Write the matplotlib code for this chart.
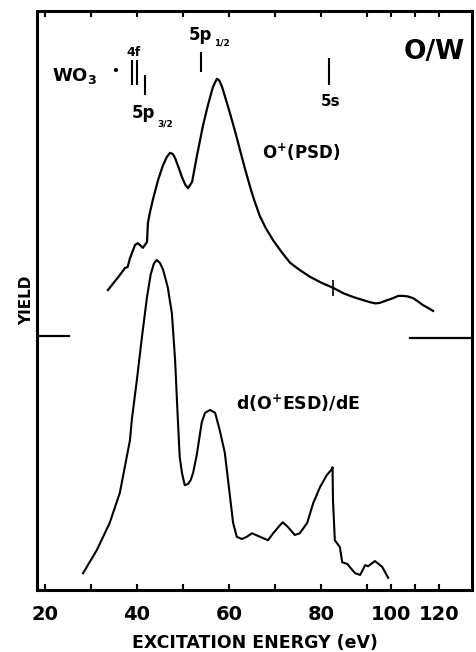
import numpy as np
import matplotlib
matplotlib.use("Agg")
import matplotlib.pyplot as plt

plt.rcParams['font.family'] = ['DejaVu Sans']
plt.rcParams['font.weight'] = 'bold'
plt.rcParams['mathtext.fontset'] = 'dejavusans'

# O+ (PSD) yield, upper curve
psd_E = [33.7, 36.3, 37.4, 38.0, 38.5, 39.6, 40.2, 41.3, 42.2, 42.4, 42.8, 43.5,
         44.6, 45.6, 46.5, 47.2, 47.8, 48.3, 49.0, 49.8, 50.5, 51.1, 52.0, 53.0,
         54.3, 55.2, 55.9, 56.5, 57.0, 57.4, 57.9, 58.5, 59.3, 60.2, 61.3, 62.4,
         63.5, 64.6, 65.5, 66.7, 68.0, 69.6, 71.5, 73.3, 75.5, 77.6, 80.0, 82.6,
         85.0, 87.0, 89.0, 91.3, 93.5, 95.4, 98.0, 100.8, 103.0, 105.0, 107.0,
         109.2, 111.0, 113.3, 115.5, 117.5]
psd_Y = [51.8, 54.4, 55.6, 55.8, 57.3, 59.6, 59.9, 59.1, 60.1, 63.4, 65.1, 67.5,
         70.8, 73.2, 74.8, 75.5, 75.3, 74.6, 73.1, 71.3, 70.0, 69.4, 70.5, 74.8,
         80.0, 83.0, 85.1, 86.8, 87.7, 88.3, 88.0, 86.9, 84.8, 82.4, 79.3, 76.0,
         72.7, 69.6, 67.3, 64.6, 62.5, 60.4, 58.3, 56.5, 55.2, 54.1, 53.1, 52.2,
         51.2, 50.6, 50.1, 49.7, 49.5, 49.6, 50.0, 50.4, 50.8, 50.8, 50.7,
         50.4, 49.9, 49.2, 48.7, 48.2]

# d(O+ ESD)/dE, lower curve
esd_E = [28.3, 31.3, 34.1, 36.3, 38.5, 38.9, 40.0, 41.1, 42.2, 43.0, 43.7, 44.3,
         45.0, 45.7, 46.7, 47.6, 48.3, 48.9, 49.3, 49.8, 50.4, 51.1, 51.7, 52.2,
         53.0, 54.1, 54.8, 55.9, 57.0, 58.0, 59.1, 59.8, 60.9, 61.7, 62.8, 63.9,
         65.0, 66.7, 68.5, 69.6, 71.1, 71.7, 72.8, 74.3, 75.4, 77.0, 78.3, 79.8,
         81.3, 82.4, 82.5, 82.6, 83.0, 84.1, 84.6, 85.7, 87.4, 88.5, 89.6, 90.4,
         93.3, 96.3, 98.8]
esd_Y = [2.9, 6.9, 11.6, 16.8, 25.9, 29.4, 36.3, 43.7, 50.6, 54.5, 56.4, 57.0,
         56.5, 55.3, 52.3, 47.8, 39.7, 29.4, 23.0, 20.2, 18.1, 18.3, 19.0, 20.2,
         23.3, 29.0, 30.6, 31.1, 30.6, 27.6, 23.7, 19.0, 11.6, 9.2, 8.8, 9.2,
         9.8, 9.2, 8.6, 9.8, 11.2, 11.7, 10.9, 9.5, 9.8, 11.6, 15.0, 17.8,
         19.9, 20.9, 21.2, 15.5, 8.6, 7.4, 4.8, 4.5, 2.9, 2.6, 4.3, 4.1,
         5.0, 4.0, 2.1]

# WO3 level markers: energy, y-bottom, y-top
level_E = [38.9, 40.0, 41.7, 53.9, 81.7]
level_lo = [87.2, 87.2, 85.5, 89.5, 87.2]
level_hi = [91.5, 91.5, 88.9, 92.9, 91.9]

xticks = [20, 30, 40, 50, 60, 70, 80, 90, 100, 110, 120]
xticklabels = ['20', '', '40', '', '60', '', '80', '', '100', '', '120']

# energy axis is compressed above 90 eV
def fwd(e):
    e = np.asarray(e, dtype=float)
    return np.where(e <= 90, e, 90 + (e - 90) * (2.4 / 4.6))

def inv(x):
    x = np.asarray(x, dtype=float)
    return np.where(x <= 90, x, 90 + (x - 90) * (4.6 / 2.4))

fig = plt.figure(figsize=(4.77, 6.52), dpi=100)
ax = fig.add_axes([37 / 477, 62 / 652, 435 / 477, 579 / 652])
ax.set_xscale('function', functions=(fwd, inv))

ax.plot(psd_E, psd_Y, color='black', lw=1.6, solid_joinstyle='round')
ax.plot(esd_E, esd_Y, color='black', lw=1.5, solid_joinstyle='round')
ax.vlines(level_E, level_lo, level_hi, color='black', lw=1.5)
# small mark on the PSD curve at 5s
ax.vlines([82.6], [50.8], [53.6], color='black', lw=1.2)

# panel separators
ax.plot([18.3, 25.2], [43.9, 43.9], color='black', lw=1.6)
ax.plot([107.9, 133.7], [43.5, 43.5], color='black', lw=1.6)

ax.set_xlim(18.3, 133.7)
ax.set_ylim(0, 100)
ax.set_xticks(xticks)
ax.set_xticklabels(xticklabels)
ax.set_yticks([])
ax.tick_params(axis='x', direction='in', top=True, length=4, width=1.5,
               labelsize=14, pad=11)
ax.minorticks_off()
for s in ax.spines.values():
    s.set_linewidth(2.2)

ax.set_xlabel('EXCITATION ENERGY (eV)', fontsize=12.5, fontweight='bold', labelpad=7)
ax.set_ylabel('YIELD', fontsize=11, fontweight='bold', labelpad=2)

def ft(px, py, s, **kw):
    fig.text(px / 477, 1 - py / 652, s, fontweight='bold', **kw)

ft(434, 52, 'O/W', fontsize=19, ha='center', va='center')
ft(52, 76, r'WO$_\mathbf{3}$', fontsize=13, ha='left', va='center')
ft(115, 71, '•', fontsize=9, ha='center', va='center')
ft(134, 53, '4f', fontsize=9, ha='center', va='center')
ft(189, 35, '5p', fontsize=12, ha='left', va='center')
ft(214, 43, '1/2', fontsize=6.5, ha='left', va='center')
ft(132, 113, '5p', fontsize=12, ha='left', va='center')
ft(157, 124, '3/2', fontsize=6.5, ha='left', va='center')
ft(331, 102, '5s', fontsize=11, ha='center', va='center')
ft(262, 152, r'O$^\mathbf{+}$(PSD)', fontsize=12, ha='left', va='center')
ft(236, 403, r'd(O$^\mathbf{+}$ESD)/dE', fontsize=12.5, ha='left', va='center')

fig.savefig('out.png', dpi=100)
